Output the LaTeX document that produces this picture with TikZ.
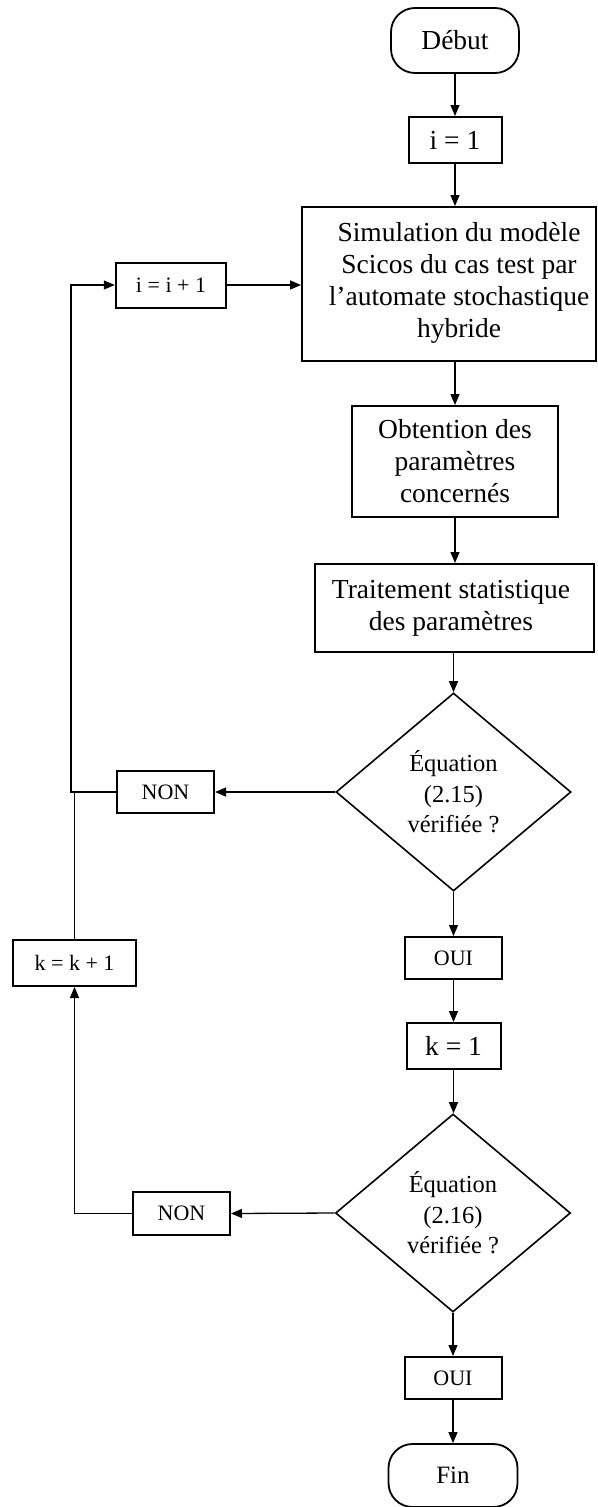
\documentclass[tikz,border=0pt]{standalone}
\usepackage{fontspec}
\setmainfont{Liberation Serif}
\usetikzlibrary{shapes.geometric,arrows.meta}
\begin{document}
\begin{tikzpicture}[x=1pt,y=-1pt,
  box/.style={draw, line width=2pt, rectangle, inner sep=0pt, align=center},
  term/.style={draw, line width=1.8pt, rectangle, rounded corners=24pt, inner sep=0pt},
  decision/.style={draw, line width=1.6pt, diamond, aspect=1.187, inner sep=0pt,
    minimum width=235pt, minimum height=198pt, align=center,
    font=\fontsize{24.5}{30.5}\selectfont},
  big/.style={font=\fontsize{27.5}{32}\selectfont},
  small/.style={font=\fontsize{22}{26}\selectfont},
  conn/.style={line width=1.3pt, -{Triangle[length=11pt,width=9pt]}},
  plain/.style={line width=1.3pt}
]
\useasboundingbox (0,0) rectangle (597,1507);

\node[term,big,minimum width=128pt,minimum height=65pt] (debut) at (455,40.5) {Début};
\node[box,big,minimum width=93pt,minimum height=46pt] (i1) at (455,140) {i = 1};
\node[box,minimum width=294pt,minimum height=154pt] (sim) at (449,284) {};
\node[big,align=center,inner sep=0pt] (simtxt) at (459,283) {Simulation du modèle\\Scicos du cas test par\\l’automate stochastique\\hybride};
\node[box,big,minimum width=206pt,minimum height=111pt] (obt) at (455,461.5) {Obtention des\\paramètres\\concernés};
\node[box,minimum width=279pt,minimum height=88pt] (trait) at (454.5,608) {};
\node[big,align=center,inner sep=0pt] (traittxt) at (451,608) {Traitement statistique\\des paramètres};
\node[decision] (eq1) at (453.5,792) {Équation\\(2.15)\\vérifiée ?};
\node[box,small,minimum width=97pt,minimum height=42pt] (non1) at (165.5,792) {NON};
\node[box,small,minimum width=97.5pt,minimum height=42pt] (oui1) at (453.5,958) {OUI};
\node[box,big,minimum width=94pt,minimum height=46pt] (k1) at (453.5,1046) {k = 1};
\node[decision] (eq2) at (453,1213) {Équation\\(2.16)\\vérifiée ?};
\node[box,small,minimum width=97pt,minimum height=43pt] (non2) at (181.5,1213.5) {NON};
\node[box,small,minimum width=97pt,minimum height=42pt] (oui2) at (453,1378) {OUI};
\node[term,font=\fontsize{25}{29}\selectfont,minimum width=129pt,minimum height=63pt] (fin) at (453,1475.5) {Fin};
\node[box,small,minimum width=110.5pt,minimum height=45pt] (iinc) at (171,285) {i = i + 1};
\node[box,small,minimum width=123pt,minimum height=46pt] (kinc) at (74.5,963) {k = k + 1};

\coordinate (j1) at (71,792);

% main column
\draw[conn] (debut.south) -- (debut.south |- i1.north);
\draw[conn] (i1.south) -- (i1.south |- sim.north);
\draw[conn] (obt.north |- sim.south) -- (obt.north);
\draw[conn] (obt.south) -- (obt.south |- trait.north);
\draw[conn] (eq1.north |- trait.south) -- (eq1.north);
\draw[conn] (eq1.south) -- (eq1.south |- oui1.north);
\draw[conn] (oui1.south) -- (oui1.south |- k1.north);
\draw[conn] (k1.south) -- (k1.south |- eq2.north);
\draw[conn] (eq2.south) -- (eq2.south |- oui2.north);
\draw[conn] (oui2.south) -- (oui2.south |- fin.north);

% first loop
\draw[conn] (eq1.west) -- (non1.east);
\draw[conn] (non1.west) -- (j1) |- (iinc.west);
\draw[conn] (iinc.east) -- (iinc.east -| sim.west);
\draw[plain] (kinc.north) -- (kinc.north |- non1.west);

% second loop
\draw[conn] (eq2.west) -- (non2.east);
\draw[conn] (non2.west) -- (kinc.south |- non2.west) -- (kinc.south);
\end{tikzpicture}
\end{document}
